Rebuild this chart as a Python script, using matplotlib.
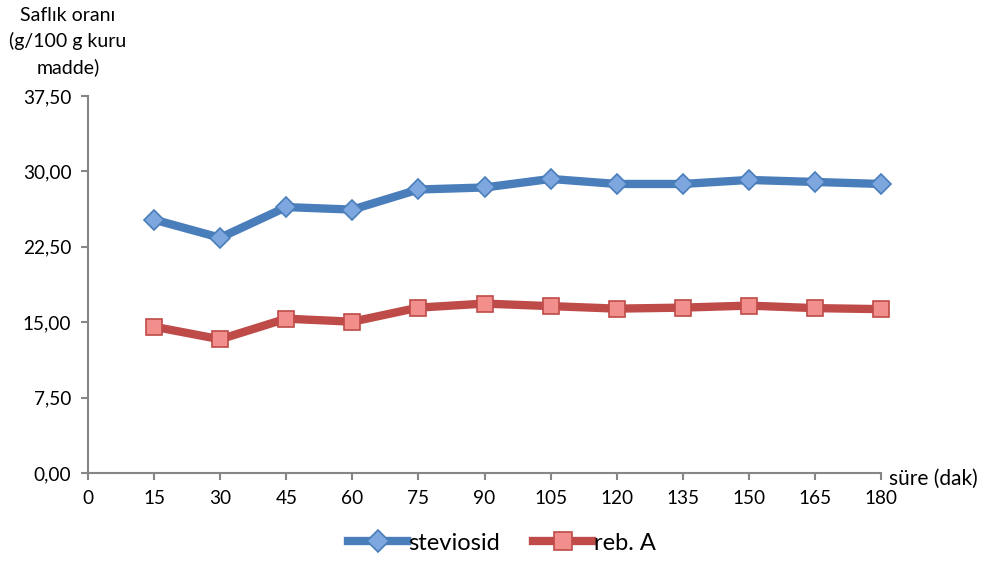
import numpy as np
import matplotlib.pyplot as plt
from matplotlib.ticker import FuncFormatter

plt.rcParams['font.family'] = ['Lato', 'DejaVu Sans']

# sampling times (min) and purity values (g/100 g dry matter)
sure = [15, 30, 45, 60, 75, 90, 105, 120, 135, 150, 165, 180]
steviosid = [25.2, 23.4, 26.45, 26.2, 28.2, 28.4, 29.25, 28.75, 28.75, 29.15, 28.95, 28.75]
reb_a = [14.55, 13.3, 15.35, 15.05, 16.45, 16.85, 16.6, 16.35, 16.45, 16.65, 16.4, 16.3]

fig = plt.figure(figsize=(9.84, 5.61), dpi=100)
ax = fig.add_axes([88/984, 88/561, 793/984, 377/561])

ax.plot(sure, steviosid, color='#4A7EBB', lw=6, marker='D', ms=10.5,
        mfc='#7EA6DF', mec='#4A7EBB', mew=1.2, label='steviosid', clip_on=False)
ax.plot(sure, reb_a, color='#BE4B48', lw=6, marker='s', ms=12,
        mfc='#F28E8C', mec='#BE4B48', mew=1.2, label='reb. A', clip_on=False)

ax.set_xlim(0, 180)
ax.set_ylim(0, 37.5)
ax.set_xticks(np.arange(0, 181, 15))
ax.set_yticks(np.arange(0, 37.6, 7.5))
ax.yaxis.set_major_formatter(FuncFormatter(lambda v, p: f'{v:.2f}'.replace('.', ',')))

for s in ['top', 'right']:
    ax.spines[s].set_visible(False)
for s in ['left', 'bottom']:
    ax.spines[s].set_color('#868686')
    ax.spines[s].set_linewidth(1.5)
ax.tick_params(colors='#868686', labelcolor='black', labelsize=13.7, length=5, width=1.5)
ax.tick_params(axis='x', pad=7)
ax.tick_params(axis='y', pad=7)

fig.text(68/984, 1 - 7/561, 'Saflık oranı\n(g/100 g kuru\nmadde)', ha='center', va='top',
         fontsize=14, linespacing=1.55)
fig.text(889/984, 1 - 479/561, 'süre (dak)', ha='left', va='center', fontsize=15)

fig.legend(loc='center', bbox_to_anchor=(502/984, 1 - 543/561), ncol=2, frameon=False,
           fontsize=17, handlelength=2.5, handletextpad=0.05, columnspacing=1.4,
           markerscale=1.1)

fig.savefig('out.png', dpi=100)
